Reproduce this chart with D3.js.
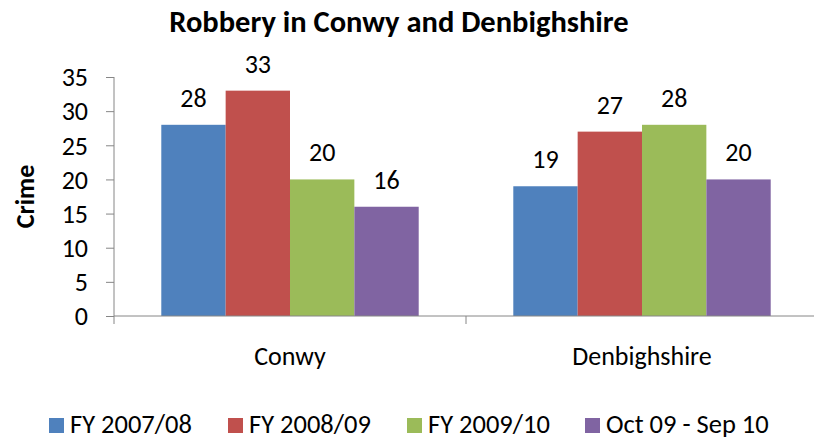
<!DOCTYPE html>
<html>
<head>
<meta charset="utf-8">
<script src="https://cdn.jsdelivr.net/npm/d3@7"></script>
<style>
  body { margin: 0; background: #fff; }
  text { font-family: Carlito, "Open Sans", sans-serif; fill: #000; }
</style>
</head>
<body>
<svg class="chart"></svg>
<script>
var categories = ["Conwy", "Denbighshire"];
var seriesNames = ["FY 2007/08", "FY 2008/09", "FY 2009/10", "Oct 09 - Sep 10"];
var fy0708 = [28, 19];
var fy0809 = [33, 27];
var fy0910 = [20, 28];
var oct09sep10 = [16, 20];
var yTicks = [0, 5, 10, 15, 20, 25, 30, 35];

function show() {
    'use strict';

    var width = 814, height = 439;
    var margin = { top: 77, bottom: 123, right: -4, left: 114 };
    var colors = ["#4F81BD", "#C0504D", "#9BBB59", "#8064A2"];
    var values = [fy0708, fy0809, fy0910, oct09sep10];
    var fs = "26px";

    var svg = d3.select(".chart")
        .attr("width", width)
        .attr("height", height);

    var x0 = d3.scaleBand()
        .domain(categories)
        .range([margin.left, width - margin.right]);

    var x1 = d3.scaleBand()
        .domain(seriesNames)
        .range([0, x0.bandwidth()])
        .paddingOuter(0.735);

    var y = d3.scaleLinear()
        .domain([0, 35])
        .range([height - margin.bottom, margin.top]);

    // title
    svg.append("text")
        .attr("x", 399)
        .attr("y", 32)
        .attr("text-anchor", "middle")
        .style("font-size", "30.5px")
        .style("font-weight", "bold")
        .text("Robbery in Conwy and Denbighshire");

    // y axis
    var yAxis = d3.axisLeft(y)
        .tickValues(yTicks)
        .tickSize(8)
        .tickPadding(18);
    var yg = svg.append("g")
        .attr("transform", "translate(" + margin.left + ",0)")
        .call(yAxis);
    yg.select(".domain").attr("stroke", "#868686").attr("d",
        "M0," + y(35) + "V" + y(0));
    yg.selectAll(".tick line").attr("stroke", "#868686");
    yg.selectAll(".tick text")
        .style("font-size", fs)
        .attr("font-family", null)
        .attr("dy", "0.34em");

    svg.append("text")
        .attr("transform", "translate(34," + ((y(0) + y(35)) / 2) + ") rotate(-90)")
        .attr("text-anchor", "middle")
        .style("font-size", fs)
        .style("font-weight", "bold")
        .text("Crime");

    // bars
    var groups = svg.selectAll(".group").data(categories).enter()
        .append("g")
        .attr("class", "group")
        .attr("transform", function(d) { return "translate(" + x0(d) + ",0)"; });

    groups.selectAll("rect")
        .data(function(d, i) {
            return seriesNames.map(function(s, j) {
                return { series: s, value: values[j][i], color: colors[j] };
            });
        })
        .enter()
        .append("rect")
        .attr("x", function(d) { return x1(d.series); })
        .attr("width", x1.bandwidth())
        .attr("y", function(d) { return y(d.value); })
        .attr("height", function(d) { return y(0) - y(d.value); })
        .attr("fill", function(d) { return d.color; });

    groups.selectAll(".label")
        .data(function(d, i) {
            return seriesNames.map(function(s, j) {
                return { series: s, value: values[j][i] };
            });
        })
        .enter()
        .append("text")
        .attr("class", "label")
        .attr("x", function(d) { return x1(d.series) + x1.bandwidth() / 2; })
        .attr("y", function(d) { return y(d.value) - 18; })
        .attr("text-anchor", "middle")
        .style("font-size", fs)
        .text(function(d) { return d.value; });

    // x axis
    svg.append("line")
        .attr("x1", margin.left).attr("x2", width - margin.right)
        .attr("y1", y(0)).attr("y2", y(0))
        .attr("stroke", "#868686");

    var bounds = categories.map(function(c) { return x0(c); })
        .concat([x0(categories[categories.length - 1]) + x0.bandwidth()]);
    svg.selectAll(".xtick").data(bounds).enter()
        .append("line")
        .attr("class", "xtick")
        .attr("x1", function(d) { return d; }).attr("x2", function(d) { return d; })
        .attr("y1", y(0)).attr("y2", y(0) + 8)
        .attr("stroke", "#868686");

    svg.selectAll(".xlabel").data(categories).enter()
        .append("text")
        .attr("class", "xlabel")
        .attr("x", function(d) { return x0(d) + x0.bandwidth() / 2; })
        .attr("y", 365)
        .attr("text-anchor", "middle")
        .style("font-size", fs)
        .text(function(d) { return d; });

    // legend
    var legendX = [49, 228, 407, 585];
    var legend = svg.selectAll(".legend").data(seriesNames).enter()
        .append("g")
        .attr("class", "legend")
        .attr("transform", function(d, i) { return "translate(" + legendX[i] + ",418)"; });
    legend.append("rect")
        .attr("width", 15).attr("height", 15)
        .attr("fill", function(d, i) { return colors[i]; });
    legend.append("text")
        .attr("x", 21)
        .attr("y", 15)
        .style("font-size", "26.5px")
        .text(function(d) { return d; });
}
show();
</script>
</body>
</html>
